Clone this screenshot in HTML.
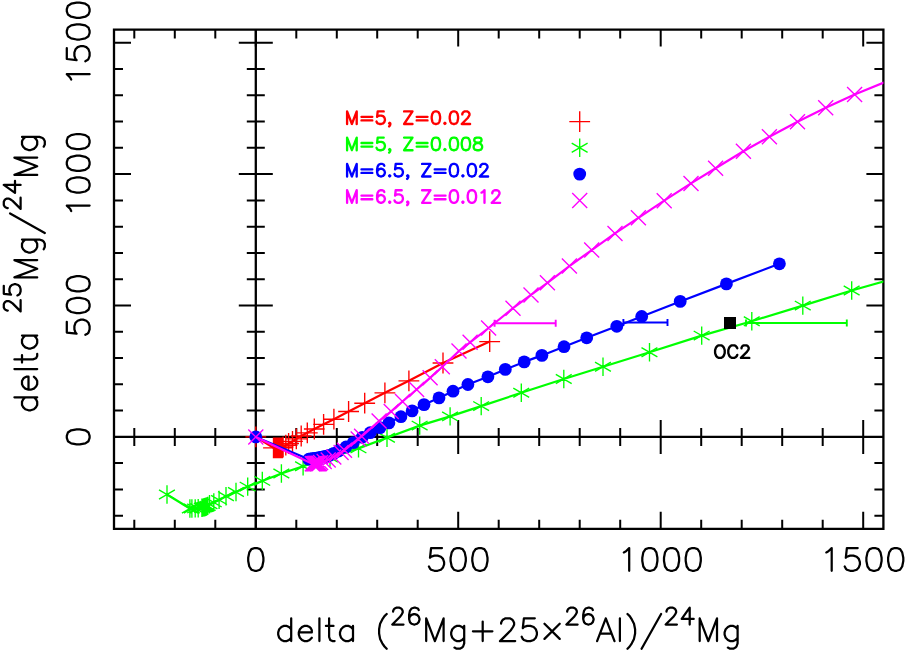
<!DOCTYPE html>
<html><head><meta charset="utf-8"><title>Mg isotopes</title>
<style>html,body{margin:0;padding:0;background:#fff;font-family:"Liberation Sans",sans-serif}svg{display:block}</style></head>
<body><svg width="906" height="652" viewBox="0 0 906 652">
<defs><clipPath id="c"><rect x="114" y="29.6" width="769.4" height="499.2"/></clipPath></defs>
<rect width="906" height="652" fill="#fff"/>
<path d="M114 29.6H883.4V528.8H114ZM255.8 29.6V528.8M114 436.9H883.4" stroke="#000" stroke-width="2.3" fill="none" stroke-linejoin="miter"/>
<path d="M134.3 528.8v-9M134.3 29.6v9M114 515.7h9M883.4 515.7h-9M134.3 427.9v18M246.8 515.7h18M174.8 528.8v-9M174.8 29.6v9M114 489.4h9M883.4 489.4h-9M174.8 427.9v18M246.8 489.4h18M215.3 528.8v-9M215.3 29.6v9M114 463.1h9M883.4 463.1h-9M215.3 427.9v18M246.8 463.1h18M255.8 528.8v-17M255.8 29.6v17M114 436.9h17M883.4 436.9h-17M296.3 528.8v-9M296.3 29.6v9M114 410.6h9M883.4 410.6h-9M296.3 427.9v18M246.8 410.6h18M336.8 528.8v-9M336.8 29.6v9M114 384.3h9M883.4 384.3h-9M336.8 427.9v18M246.8 384.3h18M377.2 528.8v-9M377.2 29.6v9M114 358h9M883.4 358h-9M377.2 427.9v18M246.8 358h18M417.7 528.8v-9M417.7 29.6v9M114 331.8h9M883.4 331.8h-9M417.7 427.9v18M246.8 331.8h18M458.2 528.8v-17M458.2 29.6v17M114 305.5h17M883.4 305.5h-17M458.2 419.9v34M238.8 305.5h34M498.7 528.8v-9M498.7 29.6v9M114 279.2h9M883.4 279.2h-9M498.7 427.9v18M246.8 279.2h18M539.2 528.8v-9M539.2 29.6v9M114 252.9h9M883.4 252.9h-9M539.2 427.9v18M246.8 252.9h18M579.7 528.8v-9M579.7 29.6v9M114 226.7h9M883.4 226.7h-9M579.7 427.9v18M246.8 226.7h18M620.2 528.8v-9M620.2 29.6v9M114 200.4h9M883.4 200.4h-9M620.2 427.9v18M246.8 200.4h18M660.7 528.8v-17M660.7 29.6v17M114 174.1h17M883.4 174.1h-17M660.7 419.9v34M238.8 174.1h34M701.2 528.8v-9M701.2 29.6v9M114 147.8h9M883.4 147.8h-9M701.2 427.9v18M246.8 147.8h18M741.7 528.8v-9M741.7 29.6v9M114 121.6h9M883.4 121.6h-9M741.7 427.9v18M246.8 121.6h18M782.2 528.8v-9M782.2 29.6v9M114 95.3h9M883.4 95.3h-9M782.2 427.9v18M246.8 95.3h18M822.7 528.8v-9M822.7 29.6v9M114 69h9M883.4 69h-9M822.7 427.9v18M246.8 69h18M863.2 528.8v-17M863.2 29.6v17M114 42.7h17M883.4 42.7h-17M863.2 419.9v34M238.8 42.7h34" stroke="#000" stroke-width="2" fill="none"/>
<path d="M255.8 570.8 254.7 570.8 251.4 569.7 249.3 566.5 248.2 561 248.2 557.8 249.3 552.4 251.4 549.1 254.7 548 256.9 548 260.1 549.1 262.3 552.4 263.4 557.8 263.4 561 262.3 566.5 260.1 569.7 256.9 570.8 255.8 570.8" stroke="#000" stroke-width="2.25" fill="none" stroke-linecap="round" stroke-linejoin="round"/>
<path d="M89.6 436.9 89.6 437.9 88.5 441.2 85.3 443.4 79.8 444.4 76.6 444.4 71.2 443.4 67.9 441.2 66.8 437.9 66.8 435.8 67.9 432.5 71.2 430.3 76.6 429.3 79.8 429.3 85.3 430.3 88.5 432.5 89.6 435.8 89.6 436.9" stroke="#000" stroke-width="2.25" fill="none" stroke-linecap="round" stroke-linejoin="round"/>
<path d="M428.9 566.5 430 568.6 431.1 569.7 434.4 570.8 437.6 570.8 440.9 569.7 443 567.5 444.1 564.3 444.1 562.1 443 558.9 440.9 556.7 437.6 555.6 434.4 555.6 431.1 556.7 430 557.8 431.1 548 442 548M458.2 570.8 457.1 570.8 453.9 569.7 451.7 566.5 450.6 561 450.6 557.8 451.7 552.4 453.9 549.1 457.1 548 459.3 548 462.6 549.1 464.7 552.4 465.8 557.8 465.8 561 464.7 566.5 462.6 569.7 459.3 570.8 458.2 570.8M479.9 570.8 478.9 570.8 475.6 569.7 473.4 566.5 472.3 561 472.3 557.8 473.4 552.4 475.6 549.1 478.9 548 481 548 484.3 549.1 486.4 552.4 487.5 557.8 487.5 561 486.4 566.5 484.3 569.7 481 570.8 479.9 570.8" stroke="#000" stroke-width="2.25" fill="none" stroke-linecap="round" stroke-linejoin="round"/>
<path d="M85.3 334.8 87.4 333.7 88.5 332.6 89.6 329.4 89.6 326.1 88.5 322.8 86.3 320.7 83.1 319.6 80.9 319.6 77.7 320.7 75.5 322.8 74.4 326.1 74.4 329.4 75.5 332.6 76.6 333.7 66.8 332.6 66.8 321.8M89.6 305.5 89.6 306.6 88.5 309.8 85.3 312 79.8 313.1 76.6 313.1 71.2 312 67.9 309.8 66.8 306.6 66.8 304.4 67.9 301.1 71.2 299 76.6 297.9 79.8 297.9 85.3 299 88.5 301.1 89.6 304.4 89.6 305.5M89.6 283.8 89.6 284.9 88.5 288.1 85.3 290.3 79.8 291.4 76.6 291.4 71.2 290.3 67.9 288.1 66.8 284.9 66.8 282.7 67.9 279.4 71.2 277.3 76.6 276.2 79.8 276.2 85.3 277.3 88.5 279.4 89.6 282.7 89.6 283.8" stroke="#000" stroke-width="2.25" fill="none" stroke-linecap="round" stroke-linejoin="round"/>
<path d="M629.2 570.8 629.2 548 626 551.3 623.8 552.4M649.9 570.8 648.8 570.8 645.5 569.7 643.3 566.5 642.3 561 642.3 557.8 643.3 552.4 645.5 549.1 648.8 548 650.9 548 654.2 549.1 656.4 552.4 657.4 557.8 657.4 561 656.4 566.5 654.2 569.7 650.9 570.8 649.9 570.8M671.6 570.8 670.5 570.8 667.2 569.7 665 566.5 664 561 664 557.8 665 552.4 667.2 549.1 670.5 548 672.6 548 675.9 549.1 678.1 552.4 679.1 557.8 679.1 561 678.1 566.5 675.9 569.7 672.6 570.8 671.6 570.8M693.2 570.8 692.2 570.8 688.9 569.7 686.7 566.5 685.7 561 685.7 557.8 686.7 552.4 688.9 549.1 692.2 548 694.3 548 697.6 549.1 699.8 552.4 700.8 557.8 700.8 561 699.8 566.5 697.6 569.7 694.3 570.8 693.2 570.8" stroke="#000" stroke-width="2.25" fill="none" stroke-linecap="round" stroke-linejoin="round"/>
<path d="M89.6 205.6 66.8 205.6 70.1 208.8 71.2 211M89.6 185 89.6 186 88.5 189.3 85.3 191.5 79.8 192.6 76.6 192.6 71.2 191.5 67.9 189.3 66.8 186 66.8 183.9 67.9 180.6 71.2 178.5 76.6 177.4 79.8 177.4 85.3 178.5 88.5 180.6 89.6 183.9 89.6 185M89.6 163.3 89.6 164.3 88.5 167.6 85.3 169.8 79.8 170.9 76.6 170.9 71.2 169.8 67.9 167.6 66.8 164.3 66.8 162.2 67.9 158.9 71.2 156.8 76.6 155.7 79.8 155.7 85.3 156.8 88.5 158.9 89.6 162.2 89.6 163.3M89.6 141.6 89.6 142.6 88.5 145.9 85.3 148.1 79.8 149.2 76.6 149.2 71.2 148.1 67.9 145.9 66.8 142.6 66.8 140.5 67.9 137.2 71.2 135.1 76.6 134 79.8 134 85.3 135.1 88.5 137.2 89.6 140.5 89.6 141.6" stroke="#000" stroke-width="2.25" fill="none" stroke-linecap="round" stroke-linejoin="round"/>
<path d="M831.7 570.8 831.7 548 828.4 551.3 826.3 552.4M844.7 566.5 845.8 568.6 846.9 569.7 850.1 570.8 853.4 570.8 856.7 569.7 858.8 567.5 859.9 564.3 859.9 562.1 858.8 558.9 856.7 556.7 853.4 555.6 850.1 555.6 846.9 556.7 845.8 557.8 846.9 548 857.7 548M874 570.8 872.9 570.8 869.7 569.7 867.5 566.5 866.4 561 866.4 557.8 867.5 552.4 869.7 549.1 872.9 548 875.1 548 878.4 549.1 880.5 552.4 881.6 557.8 881.6 561 880.5 566.5 878.4 569.7 875.1 570.8 874 570.8M895.7 570.8 894.6 570.8 891.4 569.7 889.2 566.5 888.1 561 888.1 557.8 889.2 552.4 891.4 549.1 894.6 548 896.8 548 900.1 549.1 902.2 552.4 903.3 557.8 903.3 561 902.2 566.5 900.1 569.7 896.8 570.8 895.7 570.8" stroke="#000" stroke-width="2.25" fill="none" stroke-linecap="round" stroke-linejoin="round"/>
<path d="M89.6 74.2 66.8 74.2 70.1 77.5 71.2 79.6M85.3 61.2 87.4 60.1 88.5 59 89.6 55.8 89.6 52.5 88.5 49.3 86.3 47.1 83.1 46 80.9 46 77.7 47.1 75.5 49.3 74.4 52.5 74.4 55.8 75.5 59 76.6 60.1 66.8 59 66.8 48.2M89.6 31.9 89.6 33 88.5 36.2 85.3 38.4 79.8 39.5 76.6 39.5 71.2 38.4 67.9 36.2 66.8 33 66.8 30.8 67.9 27.6 71.2 25.4 76.6 24.3 79.8 24.3 85.3 25.4 88.5 27.6 89.6 30.8 89.6 31.9M89.6 10.2 89.6 11.3 88.5 14.5 85.3 16.7 79.8 17.8 76.6 17.8 71.2 16.7 67.9 14.5 66.8 11.3 66.8 9.1 67.9 5.9 71.2 3.7 76.6 2.6 79.8 2.6 85.3 3.7 88.5 5.9 89.6 9.1 89.6 10.2" stroke="#000" stroke-width="2.25" fill="none" stroke-linecap="round" stroke-linejoin="round"/>
<path d="M291.2 618.3 291.2 629.2 289 627 286.8 625.9 283.6 625.9 281.4 627 279.2 629.2 278.2 632.4 278.2 634.6 279.2 637.8 281.4 640 283.6 641.1 286.8 641.1 289 640 291.2 637.8 291.2 629.2M291.2 637.8 291.2 641.1M310.7 632.4 298.8 632.4 299.9 629.2 302 627 304.2 625.9 307.4 625.9 309.6 627 310.7 628.1 311.8 630.2 311.8 632.4 310.7 632.4M298.8 632.4 298.8 634.6 299.9 637.8 302 640 304.2 641.1 307.4 641.1 309.6 640 311.8 637.8M319.4 618.3 319.4 641.1M329.1 618.3 329.1 625.9 325.9 625.9M334.6 641.1 332.4 641.1 330.2 640 329.1 636.8 329.1 625.9 333.5 625.9M353 629.2 353 637.8 350.8 640 348.7 641.1 345.4 641.1 343.3 640 341.1 637.8 340 634.6 340 632.4 341.1 629.2 343.3 627 345.4 625.9 348.7 625.9 350.8 627 353 629.2 353 625.9M353 637.8 353 641.1M386.7 614 384.5 616.1 382.3 619.4 380.1 623.7 379.1 629.2 379.1 633.5 380.1 638.9 382.3 643.3 384.5 646.5 386.7 648.7M393.1 611.7 393.1 610.9 393.9 609.3 394.7 608.5 396.3 607.7 399.5 607.7 401.1 608.5 401.9 609.3 402.7 610.9 402.7 612.5 401.9 614.1 400.3 616.5 392.3 624.5 403.5 624.5M409.1 618.9 409.9 622.1 411.5 623.7 413.9 624.5 414.7 624.5 417.1 623.7 418.7 622.1 419.5 619.7 419.5 618.9 418.7 616.5 417.1 614.9 414.7 614.1 413.9 614.1 411.5 614.9 409.9 616.5 409.1 618.9 409.1 614.9 409.9 610.9 411.5 608.5 413.9 607.7 415.5 607.7 417.9 608.5 418.7 610.1M443.6 641.1 443.6 618.3 434.9 641.1 426.2 618.3 426.2 641.1M464.2 629.2 464.2 637.8 462.1 640 459.9 641.1 456.6 641.1 454.5 640 452.3 637.8 451.2 634.6 451.2 632.4 452.3 629.2 454.5 627 456.6 625.9 459.9 625.9 462.1 627 464.2 629.2 464.2 625.9M464.2 637.8 464.2 643.3 463.1 646.5 462.1 647.6 459.9 648.7 456.6 648.7 454.5 647.6M482.7 621.6 482.7 631.3 472.9 631.3M482.7 641.1 482.7 631.3 492.4 631.3M501.1 623.7 501.1 622.7 502.2 620.5 503.3 619.4 505.5 618.3 509.8 618.3 512 619.4 513 620.5 514.1 622.7 514.1 624.8 513 627 510.9 630.2 500 641.1 515.2 641.1M521.7 636.8 522.8 638.9 523.9 640 527.2 641.1 530.4 641.1 533.7 640 535.8 637.8 536.9 634.6 536.9 632.4 535.8 629.2 533.7 627 530.4 625.9 527.2 625.9 523.9 627 522.8 628.1 523.9 618.3 534.8 618.3M544.5 623.7 559.7 638.9M559.7 623.7 544.5 638.9M567.2 611.7 567.2 610.9 568 609.3 568.8 608.5 570.4 607.7 573.6 607.7 575.2 608.5 576 609.3 576.8 610.9 576.8 612.5 576 614.1 574.4 616.5 566.4 624.5 577.6 624.5M583.2 618.9 584 622.1 585.6 623.7 588 624.5 588.8 624.5 591.2 623.7 592.8 622.1 593.6 619.7 593.6 618.9 592.8 616.5 591.2 614.9 588.8 614.1 588 614.1 585.6 614.9 584 616.5 583.2 618.9 583.2 614.9 584 610.9 585.6 608.5 588 607.7 589.6 607.7 592 608.5 592.8 610.1M614.5 641.1 605.8 618.3 597.1 641.1M600.4 633.5 611.2 633.5M619.9 618.3 619.9 641.1M627.5 614 629.7 616.1 631.8 619.4 634 623.7 635.1 629.2 635.1 633.5 634 638.9 631.8 643.3 629.7 646.5 627.5 648.7M661.1 614 641.6 648.7M666.5 611.7 666.5 610.9 667.3 609.3 668.1 608.5 669.7 607.7 672.9 607.7 674.5 608.5 675.3 609.3 676.1 610.9 676.1 612.5 675.3 614.1 673.7 616.5 665.7 624.5 676.9 624.5M688.9 618.9 681.7 618.9 689.7 607.7 689.7 618.9 688.9 618.9M689.7 624.5 689.7 618.9 693.7 618.9M717 641.1 717 618.3 708.3 641.1 699.7 618.3 699.7 641.1M737.6 629.2 737.6 637.8 735.5 640 733.3 641.1 730 641.1 727.9 640 725.7 637.8 724.6 634.6 724.6 632.4 725.7 629.2 727.9 627 730 625.9 733.3 625.9 735.5 627 737.6 629.2 737.6 625.9M737.6 637.8 737.6 643.3 736.5 646.5 735.5 647.6 733.3 648.7 730 648.7 727.9 647.6" stroke="#000" stroke-width="2.25" fill="none" stroke-linecap="round" stroke-linejoin="round"/>
<path d="M14.4 397.3 25.3 397.3 23.1 399.5 22 401.7 22 404.9 23.1 407.1 25.3 409.3 28.5 410.3 30.7 410.3 33.9 409.3 36.1 407.1 37.2 404.9 37.2 401.7 36.1 399.5 33.9 397.3 25.3 397.3M33.9 397.3 37.2 397.3M28.5 377.8 28.5 389.7 25.3 388.6 23.1 386.5 22 384.3 22 381.1 23.1 378.9 24.2 377.8 26.4 376.7 28.5 376.7 28.5 377.8M28.5 389.7 30.7 389.7 33.9 388.6 36.1 386.5 37.2 384.3 37.2 381.1 36.1 378.9 33.9 376.7M14.4 369.1 37.2 369.1M14.4 359.4 22 359.4 22 362.6M37.2 353.9 37.2 356.1 36.1 358.3 32.9 359.4 22 359.4 22 355M25.3 335.5 33.9 335.5 36.1 337.7 37.2 339.8 37.2 343.1 36.1 345.2 33.9 347.4 30.7 348.5 28.5 348.5 25.3 347.4 23.1 345.2 22 343.1 22 339.8 23.1 337.7 25.3 335.5 22 335.5M33.9 335.5 37.2 335.5M7.8 310.6 7 310.6 5.4 309.8 4.6 309 3.8 307.4 3.8 304.2 4.6 302.6 5.4 301.8 7 301 8.6 301 10.2 301.8 12.6 303.4 20.6 311.4 20.6 300.2M17.4 295.4 19 294.6 19.8 293.8 20.6 291.4 20.6 289 19.8 286.6 18.2 285 15.8 284.2 14.2 284.2 11.8 285 10.2 286.6 9.4 289 9.4 291.4 10.2 293.8 11 294.6 3.8 293.8 3.8 285.8M37.2 260.1 14.4 260.1 37.2 268.8 14.4 277.4 37.2 277.4M25.3 239.5 33.9 239.5 36.1 241.6 37.2 243.8 37.2 247.1 36.1 249.2 33.9 251.4 30.7 252.5 28.5 252.5 25.3 251.4 23.1 249.2 22 247.1 22 243.8 23.1 241.6 25.3 239.5 22 239.5M33.9 239.5 39.4 239.5 42.6 240.6 43.7 241.6 44.8 243.8 44.8 247.1 43.7 249.2M10.1 213.4 44.8 233M7.8 208.1 7 208.1 5.4 207.3 4.6 206.5 3.8 204.9 3.8 201.7 4.6 200.1 5.4 199.3 7 198.5 8.6 198.5 10.2 199.3 12.6 200.9 20.6 208.9 20.6 197.7M15 185.7 15 192.9 3.8 184.9 15 184.9 15 185.7M20.6 184.9 15 184.9 15 180.9M37.2 157.6 14.4 157.6 37.2 166.2 14.4 174.9 37.2 174.9M25.3 136.9 33.9 136.9 36.1 139.1 37.2 141.3 37.2 144.5 36.1 146.7 33.9 148.9 30.7 150 28.5 150 25.3 148.9 23.1 146.7 22 144.5 22 141.3 23.1 139.1 25.3 136.9 22 136.9M33.9 136.9 39.4 136.9 42.6 138 43.7 139.1 44.8 141.3 44.8 144.5 43.7 146.7" stroke="#000" stroke-width="2.25" fill="none" stroke-linecap="round" stroke-linejoin="round"/>
<g clip-path="url(#c)">
<path d="M255.8 436.9 273.5 447.8 274.3 447.8 275.1 447.8 275.9 447.8 276.7 447.8 277.5 447.8 278.3 447.8 279.1 447.8 279.9 447.8 280.7 447.8 281.5 447.8 282.3 447.8 283.1 447 285.8 445.2 288.6 443.5 292.5 441.3 296.3 438.9 301.2 436 307.3 432.8 314.3 429 323.6 424.3 333.9 419.2 348.6 411.5 364.7 403.2 384.9 392.8 408.9 380.8 443 363 489.7 341.6" stroke="#f00" stroke-width="2.2" fill="none" stroke-linejoin="round"/>
<path d="M245.4 436.9h20.8M255.8 426.5v20.8M263.1 447.8h20.8M273.5 437.4v20.8M263.9 447.8h20.8M274.3 437.4v20.8M264.7 447.8h20.8M275.1 437.4v20.8M265.5 447.8h20.8M275.9 437.4v20.8M266.3 447.8h20.8M276.7 437.4v20.8M267.1 447.8h20.8M277.5 437.4v20.8M267.9 447.8h20.8M278.3 437.4v20.8M268.7 447.8h20.8M279.1 437.4v20.8M269.5 447.8h20.8M279.9 437.4v20.8M270.3 447.8h20.8M280.7 437.4v20.8M271.1 447.8h20.8M281.5 437.4v20.8M271.9 447.8h20.8M282.3 437.4v20.8M272.7 447h20.8M283.1 436.6v20.8M275.4 445.2h20.8M285.8 434.8v20.8M278.2 443.5h20.8M288.6 433.1v20.8M282.1 441.3h20.8M292.5 430.9v20.8M285.9 438.9h20.8M296.3 428.5v20.8M290.8 436h20.8M301.2 425.6v20.8M296.9 432.8h20.8M307.3 422.4v20.8M303.9 429h20.8M314.3 418.6v20.8M313.2 424.3h20.8M323.6 413.9v20.8M323.5 419.2h20.8M333.9 408.8v20.8M338.2 411.5h20.8M348.6 401.1v20.8M354.3 403.2h20.8M364.7 392.8v20.8M374.5 392.8h20.8M384.9 382.4v20.8M398.5 380.8h20.8M408.9 370.4v20.8M432.6 363h20.8M443 352.6v20.8M479.3 341.6h20.8M489.7 331.2v20.8" stroke="#f00" stroke-width="1.35" fill="none"/>
<path d="M167 494.5 189.9 508.5 191.9 508.5 195.2 508.4 198.2 508.2 201.9 507.8 202.8 507.6 203.6 507.4 204.4 507.2 205.2 507 206 506.7 206.8 506.4 207.8 505.9 209.5 504.3 213.8 502.4 219.1 499.9 226 496.3 236 492 247.7 486.6 262.3 480.9 281.4 473.5 303.1 466.2 330 457.5 358.5 448.4 387 437.8 419.7 425.6 450.1 416.4 481.2 406.1 521.3 392.8 563.8 379 603 366.8 649.5 352.3 701.7 335.6 751.8 321.2 802.8 305.6 851.7 290.5 900 276.9" stroke="#0f0" stroke-width="2.2" fill="none" stroke-linejoin="round"/>
<path d="M167 485.3v18.4M159 489.9l15.9 9.2M159 499.1l15.9 -9.2M189.9 499.3v18.4M181.9 503.9l15.9 9.2M181.9 513.1l15.9 -9.2M191.9 499.3v18.4M183.9 503.9l15.9 9.2M183.9 513.1l15.9 -9.2M195.2 499.2v18.4M187.2 503.8l15.9 9.2M187.2 513l15.9 -9.2M198.2 499v18.4M190.2 503.6l15.9 9.2M190.2 512.8l15.9 -9.2M201.9 498.6v18.4M193.9 503.2l15.9 9.2M193.9 512.4l15.9 -9.2M202.8 498.4v18.4M194.8 503l15.9 9.2M194.8 512.2l15.9 -9.2M203.6 498.2v18.4M195.6 502.8l15.9 9.2M195.6 512l15.9 -9.2M204.4 498v18.4M196.4 502.6l15.9 9.2M196.4 511.8l15.9 -9.2M205.2 497.8v18.4M197.2 502.4l15.9 9.2M197.2 511.6l15.9 -9.2M206 497.5v18.4M198 502.1l15.9 9.2M198 511.3l15.9 -9.2M206.8 497.2v18.4M198.8 501.8l15.9 9.2M198.8 511l15.9 -9.2M207.8 496.7v18.4M199.8 501.3l15.9 9.2M199.8 510.5l15.9 -9.2M209.5 495.1v18.4M201.5 499.7l15.9 9.2M201.5 508.9l15.9 -9.2M213.8 493.2v18.4M205.8 497.8l15.9 9.2M205.8 507l15.9 -9.2M219.1 490.7v18.4M211.1 495.3l15.9 9.2M211.1 504.5l15.9 -9.2M226 487.1v18.4M218 491.7l15.9 9.2M218 500.9l15.9 -9.2M236 482.8v18.4M228 487.4l15.9 9.2M228 496.6l15.9 -9.2M247.7 477.4v18.4M239.7 482l15.9 9.2M239.7 491.2l15.9 -9.2M262.3 471.7v18.4M254.3 476.3l15.9 9.2M254.3 485.5l15.9 -9.2M281.4 464.3v18.4M273.4 468.9l15.9 9.2M273.4 478.1l15.9 -9.2M303.1 457v18.4M295.1 461.6l15.9 9.2M295.1 470.8l15.9 -9.2M330 448.3v18.4M322 452.9l15.9 9.2M322 462.1l15.9 -9.2M358.5 439.2v18.4M350.5 443.8l15.9 9.2M350.5 453l15.9 -9.2M387 428.6v18.4M379 433.2l15.9 9.2M379 442.4l15.9 -9.2M419.7 416.4v18.4M411.7 421l15.9 9.2M411.7 430.2l15.9 -9.2M450.1 407.2v18.4M442.1 411.8l15.9 9.2M442.1 421l15.9 -9.2M481.2 396.9v18.4M473.2 401.5l15.9 9.2M473.2 410.7l15.9 -9.2M521.3 383.6v18.4M513.3 388.2l15.9 9.2M513.3 397.4l15.9 -9.2M563.8 369.8v18.4M555.8 374.4l15.9 9.2M555.8 383.6l15.9 -9.2M603 357.6v18.4M595 362.2l15.9 9.2M595 371.4l15.9 -9.2M649.5 343.1v18.4M641.5 347.7l15.9 9.2M641.5 356.9l15.9 -9.2M701.7 326.4v18.4M693.7 331l15.9 9.2M693.7 340.2l15.9 -9.2M751.8 312v18.4M743.8 316.6l15.9 9.2M743.8 325.8l15.9 -9.2M802.8 296.4v18.4M794.8 301l15.9 9.2M794.8 310.2l15.9 -9.2M851.7 281.3v18.4M843.7 285.9l15.9 9.2M843.7 295.1l15.9 -9.2" stroke="#0f0" stroke-width="1.35" fill="none"/>
<path d="M746 323H846.8M746 319.5v7M846.8 319.5v7" stroke="#0f0" stroke-width="1.9" fill="none"/>
<path d="M255.8 436.9 308.8 459.2 310.7 459 312.6 458.7 314.5 458.5 316.4 458.2 318.3 457.8 320.2 457.5 322.1 457.1 324 456.7 325.9 456.3 327.8 455.8 329.7 455.3 333.8 453.4 338.6 451 346 447 353.3 442.6 362.2 437.3 370.2 432.7 380 427.6 388.9 422.9 400.9 416.7 412.1 410.9 424 404.6 439 397.9 453 391.2 467.9 384.5 487.9 376.8 505.3 369.4 524.2 361.9 541.9 355.4 564 346.7 586.7 337.8 616.8 326.3 641.7 316.5 680.2 301.4 726.4 283.9 779.4 263.8" stroke="#00f" stroke-width="2.2" fill="none" stroke-linejoin="round"/>
<g fill="#00f"><circle cx="255.8" cy="436.9" r="6.4"/><circle cx="308.8" cy="459.2" r="6.4"/><circle cx="310.7" cy="459" r="6.4"/><circle cx="312.6" cy="458.7" r="6.4"/><circle cx="314.5" cy="458.5" r="6.4"/><circle cx="316.4" cy="458.2" r="6.4"/><circle cx="318.3" cy="457.8" r="6.4"/><circle cx="320.2" cy="457.5" r="6.4"/><circle cx="322.1" cy="457.1" r="6.4"/><circle cx="324" cy="456.7" r="6.4"/><circle cx="325.9" cy="456.3" r="6.4"/><circle cx="327.8" cy="455.8" r="6.4"/><circle cx="329.7" cy="455.3" r="6.4"/><circle cx="333.8" cy="453.4" r="6.4"/><circle cx="338.6" cy="451" r="6.4"/><circle cx="346" cy="447" r="6.4"/><circle cx="353.3" cy="442.6" r="6.4"/><circle cx="362.2" cy="437.3" r="6.4"/><circle cx="370.2" cy="432.7" r="6.4"/><circle cx="380" cy="427.6" r="6.4"/><circle cx="388.9" cy="422.9" r="6.4"/><circle cx="400.9" cy="416.7" r="6.4"/><circle cx="412.1" cy="410.9" r="6.4"/><circle cx="424" cy="404.6" r="6.4"/><circle cx="439" cy="397.9" r="6.4"/><circle cx="453" cy="391.2" r="6.4"/><circle cx="467.9" cy="384.5" r="6.4"/><circle cx="487.9" cy="376.8" r="6.4"/><circle cx="505.3" cy="369.4" r="6.4"/><circle cx="524.2" cy="361.9" r="6.4"/><circle cx="541.9" cy="355.4" r="6.4"/><circle cx="564" cy="346.7" r="6.4"/><circle cx="586.7" cy="337.8" r="6.4"/><circle cx="616.8" cy="326.3" r="6.4"/><circle cx="641.7" cy="316.5" r="6.4"/><circle cx="680.2" cy="301.4" r="6.4"/><circle cx="726.4" cy="283.9" r="6.4"/><circle cx="779.4" cy="263.8" r="6.4"/></g>
<path d="M623.4 322.5H667.5M623.4 319v7M667.5 319v7" stroke="#00f" stroke-width="1.9" fill="none"/>
<path d="M255.8 436.9 312.3 463.8 312.9 463.8 313.6 463.7 314.2 463.7 314.9 463.6 315.6 463.6 316.2 463.6 316.9 463.5 317.5 463.5 318.2 463.4 318.8 463.4 319.4 463.4 320.6 462.6 324.2 461.4 328.2 460 333.8 456.9 341.1 452.5 344.5 450.2 358.2 438.9 361.6 436.3 379.1 421.1 391.2 411.4 402.5 401.5 416.6 389.5 430.1 377.8 442.3 366.8 459 351 470.1 342.3 488.6 328 513 308.2 531 294.9 547.4 282.8 569.4 266.1 591.7 250.1 615 233.4 638.4 217.8 664.2 200.7 691 183.4 715.6 168.3 743.4 151.2 769.4 136.8 797.5 121.8 825.7 107.8 854.6 94.5 890 80" stroke="#f0f" stroke-width="2.2" fill="none" stroke-linejoin="round"/>
<path d="M248.3 429.4l15 15M248.3 444.4l15 -15M304.8 456.3l15 15M304.8 471.3l15 -15M305.4 456.3l15 15M305.4 471.3l15 -15M306.1 456.2l15 15M306.1 471.2l15 -15M306.8 456.2l15 15M306.8 471.2l15 -15M307.4 456.1l15 15M307.4 471.1l15 -15M308.1 456.1l15 15M308.1 471.1l15 -15M308.7 456.1l15 15M308.7 471.1l15 -15M309.4 456l15 15M309.4 471l15 -15M310 456l15 15M310 471l15 -15M310.7 455.9l15 15M310.7 470.9l15 -15M311.3 455.9l15 15M311.3 470.9l15 -15M311.9 455.9l15 15M311.9 470.9l15 -15M313.1 455.1l15 15M313.1 470.1l15 -15M316.7 453.9l15 15M316.7 468.9l15 -15M320.7 452.5l15 15M320.7 467.5l15 -15M326.3 449.4l15 15M326.3 464.4l15 -15M333.6 445l15 15M333.6 460l15 -15M337 442.7l15 15M337 457.7l15 -15M350.7 431.4l15 15M350.7 446.4l15 -15M354.1 428.8l15 15M354.1 443.8l15 -15M371.6 413.6l15 15M371.6 428.6l15 -15M383.7 403.9l15 15M383.7 418.9l15 -15M395 394l15 15M395 409l15 -15M409.1 382l15 15M409.1 397l15 -15M422.6 370.3l15 15M422.6 385.3l15 -15M434.8 359.3l15 15M434.8 374.3l15 -15M451.5 343.5l15 15M451.5 358.5l15 -15M462.6 334.8l15 15M462.6 349.8l15 -15M481.1 320.5l15 15M481.1 335.5l15 -15M505.5 300.7l15 15M505.5 315.7l15 -15M523.5 287.4l15 15M523.5 302.4l15 -15M539.9 275.3l15 15M539.9 290.3l15 -15M561.9 258.6l15 15M561.9 273.6l15 -15M584.2 242.6l15 15M584.2 257.6l15 -15M607.5 225.9l15 15M607.5 240.9l15 -15M630.9 210.3l15 15M630.9 225.3l15 -15M656.7 193.2l15 15M656.7 208.2l15 -15M683.5 175.9l15 15M683.5 190.9l15 -15M708.1 160.8l15 15M708.1 175.8l15 -15M735.9 143.7l15 15M735.9 158.7l15 -15M761.9 129.3l15 15M761.9 144.3l15 -15M790 114.3l15 15M790 129.3l15 -15M818.2 100.3l15 15M818.2 115.3l15 -15M847.1 87l15 15M847.1 102l15 -15" stroke="#f0f" stroke-width="1.35" fill="none"/>
<path d="M494.6 323.3H555.7M494.6 319.8v7M555.7 319.8v7" stroke="#f0f" stroke-width="1.9" fill="none"/>
</g>
<rect x="724" y="317" width="12" height="12" fill="#000"/>
<path d="M720.5 357.9 718.7 357.9 717.5 357.3 716.3 356.1 715.7 354.9 715.1 353.1 715.1 350.1 715.7 348.3 716.3 347.1 717.5 345.9 718.7 345.3 721.1 345.3 722.3 345.9 723.5 347.1 724.1 348.3 724.7 350.1 724.7 353.1 724.1 354.9 723.5 356.1 722.3 357.3 721.1 357.9 720.5 357.9M737.3 354.9 736.7 356.1 735.5 357.3 734.3 357.9 731.9 357.9 730.7 357.3 729.5 356.1 728.9 354.9 728.3 353.1 728.3 350.1 728.9 348.3 729.5 347.1 730.7 345.9 731.9 345.3 734.3 345.3 735.5 345.9 736.7 347.1 737.3 348.3M741.5 348.3 741.5 347.7 742.1 346.5 742.7 345.9 743.9 345.3 746.3 345.3 747.5 345.9 748.1 346.5 748.7 347.7 748.7 348.9 748.1 350.1 746.9 351.9 740.9 357.9 749.3 357.9" stroke="#000" stroke-width="2.35" fill="none" stroke-linecap="round" stroke-linejoin="round"/>
<path d="M356.7 124 356.7 111.4 351.9 124 347.1 111.4 347.1 124M361.5 116.8 372.3 116.8M361.5 120.4 372.3 120.4M376.5 121.6 377.1 122.8 377.7 123.4 379.5 124 381.3 124 383.1 123.4 384.3 122.2 384.9 120.4 384.9 119.2 384.3 117.4 383.1 116.2 381.3 115.6 379.5 115.6 377.7 116.2 377.1 116.8 377.7 111.4 383.7 111.4M390.3 123.4 389.7 122.8 389.1 123.4 389.7 124 390.3 123.4 390.3 124.6 389.7 125.8 389.1 126.4M404.1 111.4 412.5 111.4 404.1 124 412.5 124M416.7 116.8 427.5 116.8M416.7 120.4 427.5 120.4M435.9 124 435.3 124 433.5 123.4 432.3 121.6 431.7 118.6 431.7 116.8 432.3 113.8 433.5 112 435.3 111.4 436.5 111.4 438.3 112 439.5 113.8 440.1 116.8 440.1 118.6 439.5 121.6 438.3 123.4 436.5 124 435.9 124M445.5 123.4 444.9 122.8 444.3 123.4 444.9 124 445.5 123.4M453.9 124 453.3 124 451.5 123.4 450.3 121.6 449.7 118.6 449.7 116.8 450.3 113.8 451.5 112 453.3 111.4 454.5 111.4 456.3 112 457.5 113.8 458.1 116.8 458.1 118.6 457.5 121.6 456.3 123.4 454.5 124 453.9 124M462.3 114.4 462.3 113.8 462.9 112.6 463.5 112 464.7 111.4 467.1 111.4 468.3 112 468.9 112.6 469.5 113.8 469.5 115 468.9 116.2 467.7 118 461.7 124 470.1 124" stroke="#f00" stroke-width="2.35" fill="none" stroke-linecap="round" stroke-linejoin="round"/>
<path d="M356.7 150.2 356.7 137.6 351.9 150.2 347.1 137.6 347.1 150.2M361.5 143 372.3 143M361.5 146.6 372.3 146.6M376.5 147.8 377.1 149 377.7 149.6 379.5 150.2 381.3 150.2 383.1 149.6 384.3 148.4 384.9 146.6 384.9 145.4 384.3 143.6 383.1 142.4 381.3 141.8 379.5 141.8 377.7 142.4 377.1 143 377.7 137.6 383.7 137.6M390.3 149.6 389.7 149 389.1 149.6 389.7 150.2 390.3 149.6 390.3 150.8 389.7 152 389.1 152.6M404.1 137.6 412.5 137.6 404.1 150.2 412.5 150.2M416.7 143 427.5 143M416.7 146.6 427.5 146.6M435.9 150.2 435.3 150.2 433.5 149.6 432.3 147.8 431.7 144.8 431.7 143 432.3 140 433.5 138.2 435.3 137.6 436.5 137.6 438.3 138.2 439.5 140 440.1 143 440.1 144.8 439.5 147.8 438.3 149.6 436.5 150.2 435.9 150.2M445.5 149.6 444.9 149 444.3 149.6 444.9 150.2 445.5 149.6M453.9 150.2 453.3 150.2 451.5 149.6 450.3 147.8 449.7 144.8 449.7 143 450.3 140 451.5 138.2 453.3 137.6 454.5 137.6 456.3 138.2 457.5 140 458.1 143 458.1 144.8 457.5 147.8 456.3 149.6 454.5 150.2 453.9 150.2M465.9 150.2 465.3 150.2 463.5 149.6 462.3 147.8 461.7 144.8 461.7 143 462.3 140 463.5 138.2 465.3 137.6 466.5 137.6 468.3 138.2 469.5 140 470.1 143 470.1 144.8 469.5 147.8 468.3 149.6 466.5 150.2 465.9 150.2M479.1 150.2 480.9 149.6 481.5 149 482.1 147.8 482.1 146 481.5 144.8 480.3 143.6 478.5 143 476.1 142.4 474.9 141.8 474.3 140.6 474.3 139.4 474.9 138.2 476.7 137.6 479.1 137.6 480.9 138.2 481.5 139.4 481.5 140.6 480.9 141.8 479.7 142.4 477.3 143 475.5 143.6 474.3 144.8 473.7 146 473.7 147.8 474.3 149 474.9 149.6 476.7 150.2 479.1 150.2" stroke="#0f0" stroke-width="2.35" fill="none" stroke-linecap="round" stroke-linejoin="round"/>
<path d="M356.7 176.5 356.7 163.9 351.9 176.5 347.1 163.9 347.1 176.5M361.5 169.3 372.3 169.3M361.5 172.9 372.3 172.9M377.1 172.3 377.7 174.7 378.9 175.9 380.7 176.5 381.3 176.5 383.1 175.9 384.3 174.7 384.9 172.9 384.9 172.3 384.3 170.5 383.1 169.3 381.3 168.7 380.7 168.7 378.9 169.3 377.7 170.5 377.1 172.3 377.1 169.3 377.7 166.3 378.9 164.5 380.7 163.9 381.9 163.9 383.7 164.5 384.3 165.7M390.3 175.9 389.7 175.3 389.1 175.9 389.7 176.5 390.3 175.9M394.5 174.1 395.1 175.3 395.7 175.9 397.5 176.5 399.3 176.5 401.1 175.9 402.3 174.7 402.9 172.9 402.9 171.7 402.3 169.9 401.1 168.7 399.3 168.1 397.5 168.1 395.7 168.7 395.1 169.3 395.7 163.9 401.7 163.9M408.3 175.9 407.7 175.3 407.1 175.9 407.7 176.5 408.3 175.9 408.3 177.1 407.7 178.3 407.1 178.9M422.1 163.9 430.5 163.9 422.1 176.5 430.5 176.5M434.7 169.3 445.5 169.3M434.7 172.9 445.5 172.9M453.9 176.5 453.3 176.5 451.5 175.9 450.3 174.1 449.7 171.1 449.7 169.3 450.3 166.3 451.5 164.5 453.3 163.9 454.5 163.9 456.3 164.5 457.5 166.3 458.1 169.3 458.1 171.1 457.5 174.1 456.3 175.9 454.5 176.5 453.9 176.5M463.5 175.9 462.9 175.3 462.3 175.9 462.9 176.5 463.5 175.9M471.9 176.5 471.3 176.5 469.5 175.9 468.3 174.1 467.7 171.1 467.7 169.3 468.3 166.3 469.5 164.5 471.3 163.9 472.5 163.9 474.3 164.5 475.5 166.3 476.1 169.3 476.1 171.1 475.5 174.1 474.3 175.9 472.5 176.5 471.9 176.5M480.3 166.9 480.3 166.3 480.9 165.1 481.5 164.5 482.7 163.9 485.1 163.9 486.3 164.5 486.9 165.1 487.5 166.3 487.5 167.5 486.9 168.7 485.7 170.5 479.7 176.5 488.1 176.5" stroke="#00f" stroke-width="2.35" fill="none" stroke-linecap="round" stroke-linejoin="round"/>
<path d="M356.7 202.8 356.7 190.2 351.9 202.8 347.1 190.2 347.1 202.8M361.5 195.6 372.3 195.6M361.5 199.2 372.3 199.2M377.1 198.6 377.7 201 378.9 202.2 380.7 202.8 381.3 202.8 383.1 202.2 384.3 201 384.9 199.2 384.9 198.6 384.3 196.8 383.1 195.6 381.3 195 380.7 195 378.9 195.6 377.7 196.8 377.1 198.6 377.1 195.6 377.7 192.6 378.9 190.8 380.7 190.2 381.9 190.2 383.7 190.8 384.3 192M390.3 202.2 389.7 201.6 389.1 202.2 389.7 202.8 390.3 202.2M394.5 200.4 395.1 201.6 395.7 202.2 397.5 202.8 399.3 202.8 401.1 202.2 402.3 201 402.9 199.2 402.9 198 402.3 196.2 401.1 195 399.3 194.4 397.5 194.4 395.7 195 395.1 195.6 395.7 190.2 401.7 190.2M408.3 202.2 407.7 201.6 407.1 202.2 407.7 202.8 408.3 202.2 408.3 203.4 407.7 204.6 407.1 205.2M422.1 190.2 430.5 190.2 422.1 202.8 430.5 202.8M434.7 195.6 445.5 195.6M434.7 199.2 445.5 199.2M453.9 202.8 453.3 202.8 451.5 202.2 450.3 200.4 449.7 197.4 449.7 195.6 450.3 192.6 451.5 190.8 453.3 190.2 454.5 190.2 456.3 190.8 457.5 192.6 458.1 195.6 458.1 197.4 457.5 200.4 456.3 202.2 454.5 202.8 453.9 202.8M463.5 202.2 462.9 201.6 462.3 202.2 462.9 202.8 463.5 202.2M471.9 202.8 471.3 202.8 469.5 202.2 468.3 200.4 467.7 197.4 467.7 195.6 468.3 192.6 469.5 190.8 471.3 190.2 472.5 190.2 474.3 190.8 475.5 192.6 476.1 195.6 476.1 197.4 475.5 200.4 474.3 202.2 472.5 202.8 471.9 202.8M484.5 202.8 484.5 190.2 482.7 192 481.5 192.6M492.3 193.2 492.3 192.6 492.9 191.4 493.5 190.8 494.7 190.2 497.1 190.2 498.3 190.8 498.9 191.4 499.5 192.6 499.5 193.8 498.9 195 497.7 196.8 491.7 202.8 500.1 202.8" stroke="#f0f" stroke-width="2.35" fill="none" stroke-linecap="round" stroke-linejoin="round"/>
<path d="M569.3 121.6h20.8M579.7 111.2v20.8" stroke="#f00" stroke-width="1.35" fill="none"/>
<path d="M579.7 138.6v18.4M571.7 143.2l15.9 9.2M571.7 152.4l15.9 -9.2" stroke="#0f0" stroke-width="1.35" fill="none"/>
<circle cx="579.7" cy="174.1" r="6.4" fill="#00f"/>
<path d="M572.2 192.9l15 15M572.2 207.9l15 -15" stroke="#f0f" stroke-width="1.35" fill="none"/>
</svg></body></html>
